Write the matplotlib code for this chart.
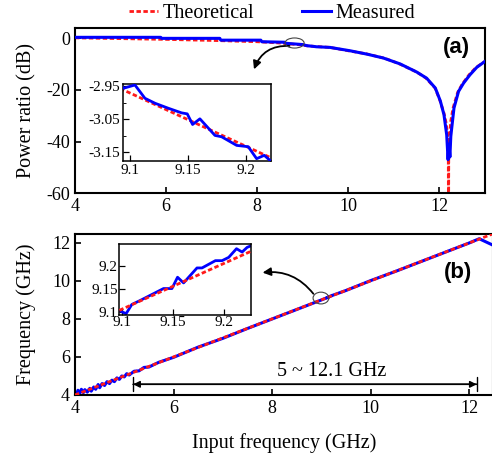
import matplotlib
matplotlib.use("Agg")
import matplotlib.pyplot as plt
from matplotlib.patches import Ellipse

plt.rcParams['font.family'] = ['Liberation Serif', 'DejaVu Serif']
plt.rcParams['axes.unicode_minus'] = False

# ---- panel (a): power ratio vs input frequency ----
theo_f_a = [4.0, 5.0, 6.0, 7.0, 8.0, 8.5, 9.0, 9.0943, 9.2207, 9.6, 10.0, 10.4,
            10.8, 11.1, 11.5, 11.7, 11.9, 12.0, 12.1, 12.15, 12.18, 12.195, 12.2,
            12.205, 12.22, 12.25, 12.3, 12.4, 12.5, 12.65, 12.8, 13.0]
theo_p_a = [0.1, -0.2, -0.5, -0.9, -1.4, -1.9, -2.7, -2.962, -3.165, -3.6, -4.9, -6.1,
            -7.8, -9.8, -13.1, -15.4, -19.2, -23.5, -29.0, -33.0, -38.0, -45.0, -80.0,
            -45.0, -38.0, -32.0, -27.0, -21.0, -17.8, -14.2, -11.4, -9.0]

meas_f_a = [4.0, 5.88, 5.9, 7.18, 7.2, 8.08, 8.1, 8.6, 8.62, 9.0,
            9.0943, 9.1043, 9.1129, 9.1216, 9.1330, 9.1445, 9.1494, 9.1540, 9.1603,
            9.1733, 9.1790, 9.1920, 9.2020, 9.2092, 9.2158, 9.2207,
            9.3, 9.6, 10.04, 10.41, 10.77, 11.14, 11.5, 11.72, 11.91, 12.02, 12.1,
            12.16, 12.19, 12.21, 12.23, 12.25, 12.27, 12.32, 12.42, 12.53, 12.67,
            12.82, 13.0]
meas_p_a = [0.3, 0.3, -0.1, -0.1, -0.8, -0.8, -1.4, -1.6, -2.0, -2.5,
            -2.957, -2.947, -2.987, -3.002, -3.017, -3.031, -3.034, -3.066, -3.049,
            -3.099, -3.103, -3.129, -3.133, -3.169, -3.159, -3.174,
            -3.35, -3.6, -4.9, -6.2, -7.7, -10.0, -13.1, -15.5, -19.3, -24.3, -29.6,
            -37.4, -47.0, -41.0, -46.0, -38.0, -34.8, -27.0, -20.6, -17.4, -14.2,
            -11.3, -9.0]

# ---- panel (b): output frequency vs input frequency ----
theo_f_b = [4.0, 9.0971, 9.2222, 12.5]
theo_y_b = [4.0, 9.1029, 9.2283, 12.5]

meas_f_b = [4.0, 4.03, 4.06, 4.1, 4.13, 4.17, 4.2, 4.25, 4.3, 4.33, 4.38, 4.42,
            4.47, 4.5, 4.55, 4.6, 4.65, 4.7, 4.75, 4.8, 4.85, 4.9, 4.95, 5.0,
            5.05, 5.1, 5.2, 5.3, 5.4, 5.5, 5.7, 6.0, 6.5, 7.0, 7.5, 8.0, 8.5, 9.0,
            9.0971, 9.1039, 9.1095, 9.1176, 9.1405, 9.1487, 9.1542, 9.1601, 9.1732,
            9.1781, 9.1912, 9.1977, 9.2042, 9.2118, 9.2173, 9.2222,
            9.5, 10.0, 10.5, 11.0, 11.5, 12.0, 12.2, 12.3, 12.48]
meas_y_b = [4.15, 4.0, 4.25, 4.1, 4.3, 4.12, 4.28, 4.15, 4.35, 4.2, 4.42, 4.3,
            4.55, 4.38, 4.6, 4.5, 4.7, 4.6, 4.78, 4.7, 4.9, 4.82, 5.0, 4.95,
            5.12, 5.05, 5.25, 5.27, 5.45, 5.47, 5.72, 5.98, 6.52, 6.98, 7.5, 8.0, 8.5, 9.0,
            9.1029, 9.0957, 9.1159, 9.1246, 9.1507, 9.1507, 9.1754, 9.1630, 9.1957,
            9.1957, 9.2116, 9.2116, 9.2188, 9.2377, 9.2304, 9.2406,
            9.5, 10.02, 10.5, 11.0, 11.5, 12.0, 12.22, 12.1, 11.88]

main_ticks = [4, 6, 8, 10, 12]
power_ticks = [0, -20, -40, -60]
inset_x_ticks = [9.1, 9.15, 9.2]
inset_x_labels = ['9.1', '9.15', '9.2']
inset_a_y_ticks = [-2.95, -3.05, -3.15]
inset_a_y_labels = ['-2.95', '-3.05', '-3.15']
inset_b_y_ticks = [9.1, 9.15, 9.2]
inset_b_y_labels = ['9.1', '9.15', '9.2']

red = '#ff1a1a'
blue = '#0000ff'
dash = (0, (1.6, 0.9))
label_size = 14.5


def style_axes(ax, lw=1.5, size=13):
    for s in ax.spines.values():
        s.set_linewidth(lw)
    ax.tick_params(direction='in', top=False, right=False, labelsize=size,
                   width=lw * 0.8, length=4)
    ax.tick_params(which='minor', direction='in', width=lw * 0.6, length=2)


fig = plt.figure(figsize=(4.92, 4.54), dpi=100)

# ---------------- (a) ----------------
ax1 = fig.add_axes([0.1524, 0.5742, 0.8333, 0.3641])
ax1.plot(theo_f_a, theo_p_a, color=red, lw=2, ls=dash, label='Theoretical', zorder=2)
ax1.plot(meas_f_a, meas_p_a, color=blue, lw=2.2, label='Measured', zorder=3)
ax1.set_xlim(4, 13)
ax1.set_ylim(-60, 3.9)
ax1.set_xticks(main_ticks)
ax1.set_yticks(power_ticks)
ax1.set_ylabel('Power ratio (dB)', fontsize=label_size)
ax1.yaxis.set_label_coords(-0.094, 0.5)
style_axes(ax1)
ax1.text(0.93, 0.88, '(a)', transform=ax1.transAxes, fontsize=16, fontweight='bold',
         family='Liberation Sans', ha='center', va='center')
ax1.add_patch(Ellipse((8.82, -1.9), 0.42, 3.9, fill=False, ec='#444444', lw=0.8, zorder=4))
ax1.annotate('', xy=(7.91, -13.1), xytext=(8.77, -3.1),
             arrowprops=dict(arrowstyle='-|>', color='black', lw=1.3,
                             connectionstyle='arc3,rad=0.4', mutation_scale=12))

ins1 = fig.add_axes([0.25, 0.6454, 0.3008, 0.1696])
ins1.plot(theo_f_a, theo_p_a, color=red, lw=2, ls=dash, zorder=2)
ins1.plot(meas_f_a, meas_p_a, color=blue, lw=2, zorder=3)
ins1.set_xlim(9.094, 9.2216)
ins1.set_ylim(-3.176, -2.944)
ins1.set_xticks(inset_x_ticks)
ins1.set_xticklabels(inset_x_labels)
ins1.set_yticks(inset_a_y_ticks)
ins1.set_yticklabels(inset_a_y_labels)
ins1.set_yticks([-3.0, -3.1], minor=True)
style_axes(ins1, lw=1.1, size=11)
ins1.tick_params(pad=2)

# ---------------- (b) ----------------
ax2 = fig.add_axes([0.1524, 0.13, 0.8496, 0.3546])
ax2.plot(meas_f_b, meas_y_b, color=blue, lw=2.2, zorder=2)
ax2.plot(theo_f_b, theo_y_b, color=red, lw=2, ls=dash, zorder=3)
ax2.set_xlim(4, 12.48)
ax2.set_ylim(4, 12.47)
ax2.set_xticks(main_ticks)
ax2.set_yticks(main_ticks)
ax2.set_ylabel('Frequency (GHz)', fontsize=label_size)
ax2.yaxis.set_label_coords(-0.093, 0.5)
ax2.set_xlabel('Input frequency (GHz)', fontsize=label_size, labelpad=12)
style_axes(ax2)
ax2.text(0.916, 0.758, '(b)', transform=ax2.transAxes, fontsize=16, fontweight='bold',
         family='Liberation Sans', ha='center', va='center')
ax2.add_patch(Ellipse((8.99, 9.1), 0.32, 0.62, angle=0, fill=False, ec='#444444',
                      lw=0.8, zorder=4))
ax2.annotate('', xy=(7.75, 10.42), xytext=(8.87, 9.21),
             arrowprops=dict(arrowstyle='-|>', color='black', lw=1.3,
                             connectionstyle='arc3,rad=0.3', mutation_scale=12))
# span marker 5 ~ 12.1 GHz
ax2.annotate('', xy=(12.15, 4.56), xytext=(5.18, 4.56),
             arrowprops=dict(arrowstyle='|-|', color='black', lw=1.0,
                             mutation_scale=5, shrinkA=0, shrinkB=0))
ax2.annotate('', xy=(12.15, 4.56), xytext=(5.18, 4.56),
             arrowprops=dict(arrowstyle='-|>', color='black', lw=1.0,
                             mutation_scale=10, shrinkA=0, shrinkB=0))
ax2.annotate('', xy=(5.18, 4.56), xytext=(12.15, 4.56),
             arrowprops=dict(arrowstyle='-|>', color='black', lw=1.0,
                             mutation_scale=10, shrinkA=0, shrinkB=0))
ax2.text(9.2, 5.25, '5 ~ 12.1 GHz', fontsize=label_size, ha='center', va='center')

ins2 = fig.add_axes([0.2419, 0.3062, 0.2683, 0.1564])
ins2.plot(meas_f_b, meas_y_b, color=blue, lw=2, zorder=2)
ins2.plot(theo_f_b, theo_y_b, color=red, lw=2, ls=dash, zorder=3)
ins2.set_xlim(9.097, 9.226)
ins2.set_ylim(9.093, 9.248)
ins2.set_xticks(inset_x_ticks)
ins2.set_xticklabels(inset_x_labels)
ins2.set_yticks(inset_b_y_ticks)
ins2.set_yticklabels(inset_b_y_labels)
style_axes(ins2, lw=1.1, size=11)
ins2.tick_params(pad=1)

# legend on top
h, l = ax1.get_legend_handles_labels()
fig.legend(h, l, loc='center', bbox_to_anchor=(0.553, 0.971), ncol=2, frameon=False,
           fontsize=label_size, handlelength=1.45, handletextpad=0.2, columnspacing=2.4)

fig.savefig('out.png', dpi=100)
